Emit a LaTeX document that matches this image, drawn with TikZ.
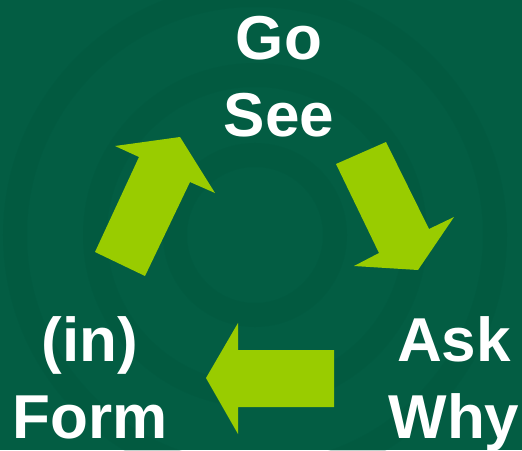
\documentclass[tikz,border=0pt]{standalone}
\usepackage{fontspec}
\setmainfont{Liberation Sans}
\usetikzlibrary{positioning}

\definecolor{bgGreen}{HTML}{035D43}
\definecolor{ringGreen}{HTML}{00533B}
\definecolor{arrowLime}{HTML}{99CC00}

\begin{document}
\begin{tikzpicture}[x=1pt,y=-1pt,
        steplabel/.style={font=\fontsize{62}{77}\selectfont\bfseries, text=white, align=center, inner sep=0pt},
        blockarrow/.style={fill=arrowLime, draw=none}]
    % Background and faint rings
    \fill[bgGreen] (0,0) rectangle (522,450);
    \useasboundingbox (0,0) rectangle (522,450);
    \foreach \r in {80,160,240}
        \draw[ringGreen, line width=24pt, opacity=0.25] (255,235) circle (\r);

    % Step labels
    \node[steplabel, anchor=base] (gosee) at (279,136) {Go\\See};
    \node[steplabel, anchor=base] (askwhy) at (454,438) {Ask\\Why};
    \node[steplabel, anchor=base] (inform) at (90,438) {(in)\\Form};

    % Block arrows of the cycle
    \fill[blockarrow] (95,252) -- (145,276) -- (190,182) -- (215,193)
        -- (180,137) -- (115,146) -- (139,157) -- cycle;
    \fill[blockarrow] (336,164) -- (386,142) -- (429,229) -- (454,217)
        -- (418,270) -- (354,266) -- (379,253) -- cycle;
    \fill[blockarrow] (334,350) -- (334,407) -- (238,407) -- (238,434)
        -- (206,378) -- (238,323) -- (238,350) -- cycle;
\end{tikzpicture}
\end{document}
